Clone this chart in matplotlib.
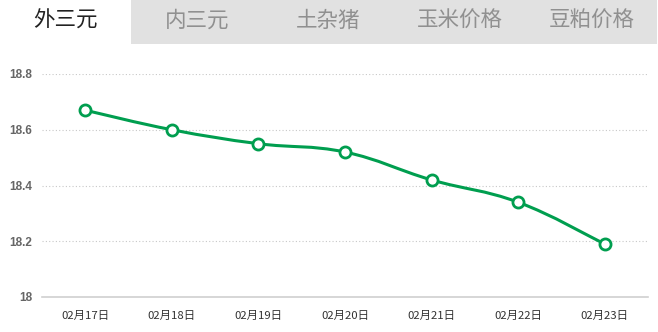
import numpy as np
import matplotlib
matplotlib.use("Agg")
import matplotlib.pyplot as plt
from matplotlib.patches import Rectangle, PathPatch
from matplotlib.path import Path

tabs = ["外三元", "内三元", "土杂猪", "玉米价格", "豆粕价格"]
dates = ["02月17日", "02月18日", "02月19日", "02月20日", "02月21日", "02月22日", "02月23日"]
prices = [18.67, 18.60, 18.55, 18.52, 18.42, 18.34, 18.19]
y_ticks = [18, 18.2, 18.4, 18.6, 18.8]
y_labels = ["18", "18.2", "18.4", "18.6", "18.8"]

GREEN = "#009e4f"
W, H = 658, 332

fig = plt.figure(figsize=(W / 100, H / 100), dpi=100)

# tab bar
tab_h = 44
tab_w = 131.4
for i, name in enumerate(tabs):
    active = i == 0
    fig.add_artist(Rectangle((i * tab_w / W, 1 - tab_h / H), tab_w / W, tab_h / H,
                             transform=fig.transFigure,
                             facecolor="white" if active else "#e1e1e1",
                             edgecolor="none"))
    fig.text((i + 0.5) * tab_w / W, 1 - 21 / H, name,
             ha="center", va="center", fontsize=15.5,
             family=["Noto Sans CJK SC", "DejaVu Sans"],
             color="#222222" if active else "#909090")

ax = fig.add_axes([42 / W, 35 / H, 606 / W, (297 - 74) / H])
x = np.arange(len(dates))
ax.set_xlim(-0.5, len(dates) - 0.5)
ax.set_ylim(18, 18.8)

# smooth curve through the points (Catmull-Rom -> cubic bezier)
pts = np.column_stack([x, prices])
verts = [tuple(pts[0])]
codes = [Path.MOVETO]
t = 0.2
for k in range(len(pts) - 1):
    p0 = pts[k - 1] if k > 0 else pts[k]
    p1, p2 = pts[k], pts[k + 1]
    p3 = pts[k + 2] if k + 2 < len(pts) else pts[k + 1]
    c1 = p1 + (p2 - p0) * t
    c2 = p2 - (p3 - p1) * t
    verts += [tuple(c1), tuple(c2), tuple(p2)]
    codes += [Path.CURVE4] * 3
ax.add_patch(PathPatch(Path(verts, codes), facecolor="none", edgecolor=GREEN,
                       linewidth=2.2, zorder=3, capstyle="round"))
ax.plot(x, prices, linestyle="none", marker="o", markersize=8,
        markerfacecolor="white", markeredgecolor=GREEN, markeredgewidth=2, zorder=4)

ax.set_yticks(y_ticks)
ax.set_yticklabels(y_labels, fontsize=8.5, fontweight="bold",
                   family="Liberation Sans", color="#666666")
ax.set_xticks(x)
ax.set_xticklabels(dates, fontsize=8.2, family=["Noto Sans CJK SC", "DejaVu Sans"],
                   color="#333333")
ax.tick_params(axis="y", length=0, pad=7)
ax.tick_params(axis="x", length=0, pad=10)

for yv in y_ticks[1:]:
    ax.axhline(yv, color="#c8c8c8", linewidth=0.8, linestyle=(0, (1, 2)), zorder=1)

for s in ["top", "right", "left"]:
    ax.spines[s].set_visible(False)
ax.spines["bottom"].set_color("#d0d0d0")
ax.spines["bottom"].set_linewidth(1.2)

fig.savefig("out.png", dpi=100)
